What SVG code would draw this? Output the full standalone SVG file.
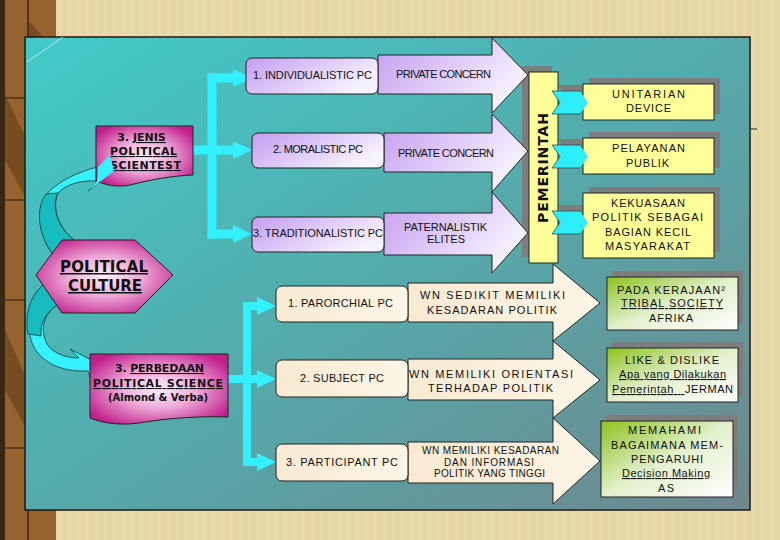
<svg xmlns="http://www.w3.org/2000/svg" width="780" height="540" viewBox="0 0 780 540">
<defs>
  <pattern id="parch" width="9" height="540" patternUnits="userSpaceOnUse">
    <rect width="9" height="540" fill="#e8d8a8"/>
    <line x1="2" y1="0" x2="2" y2="540" stroke="#dccb96" stroke-width="1" opacity="0.45"/>
    <line x1="6" y1="0" x2="6" y2="540" stroke="#f0e3bb" stroke-width="1" opacity="0.45"/>
  </pattern>
  <linearGradient id="panelG" x1="0" y1="0" x2="1" y2="1">
    <stop offset="0" stop-color="#3fcbc9"/>
    <stop offset="0.45" stop-color="#52aeae"/>
    <stop offset="1" stop-color="#6f878e"/>
  </linearGradient>
  <linearGradient id="purG" x1="0" y1="0" x2="1" y2="0.5">
    <stop offset="0" stop-color="#c39cf0"/>
    <stop offset="1" stop-color="#f7f2ff"/>
  </linearGradient>
  <radialGradient id="magG" cx="0.5" cy="0.5" r="0.6">
    <stop offset="0" stop-color="#fff2fb"/>
    <stop offset="0.45" stop-color="#eeaad8"/>
    <stop offset="1" stop-color="#c01f8c"/>
  </radialGradient>
  <linearGradient id="greG" x1="0" y1="0" x2="1" y2="1">
    <stop offset="0" stop-color="#8cc21c"/>
    <stop offset="0.5" stop-color="#e2f0cc"/>
    <stop offset="1" stop-color="#ffffff"/>
  </linearGradient>
  <linearGradient id="creG" x1="0" y1="0" x2="1" y2="0">
    <stop offset="0" stop-color="#f8ead2"/>
    <stop offset="1" stop-color="#fdf5e6"/>
  </linearGradient>
  <style>
    .t{font-family:"Liberation Sans","DejaVu Sans",Arial,sans-serif;font-size:11px;fill:#111;text-anchor:middle}
    .s{font-size:10px}
    .b{font-family:"DejaVu Sans","Liberation Sans",sans-serif;font-weight:bold;font-size:11px;fill:#111;text-anchor:middle}
    .u{text-decoration:underline}
    .pur{fill:url(#purG);stroke:#222;stroke-width:1}
    .cre{fill:url(#creG);stroke:#222;stroke-width:1}
    .yel{fill:#ffff99;stroke:#222;stroke-width:1}
    .grn{fill:url(#greG);stroke:#222;stroke-width:1}
    .mag{fill:url(#magG);stroke:#222;stroke-width:1}
    .sh{fill:#7d7d7d}
    .cy{stroke:#33f0ff;stroke-width:9;fill:none}
    .cyf{fill:#33f0ff}
    .ca{fill:#35f2ff;stroke:#1a3a3a;stroke-width:0.8}
    .cd{fill:#17bcbf;stroke:#1a3a3a;stroke-width:0.8}
    .chev{fill:#2eeefa;stroke:#333;stroke-width:0.7}
  </style>
</defs>

<g id="background">
  <rect x="0" y="0" width="780" height="540" fill="url(#parch)"/>
  <rect x="0" y="0" width="56" height="540" fill="#96622e"/>
  <rect x="0" y="0" width="5" height="540" fill="#3b2814"/>
  <line x1="28" y1="0" x2="28" y2="540" stroke="#3b2412" stroke-width="1.5"/>
  <path d="M5,95 L27,140 L27,200 L5,160 Z M28,180 L55,230 L55,300 L28,250 Z M5,330 L27,380 L27,430 L5,390 Z M28,20 L55,50 L55,110 L28,80 Z" fill="#5e3a18" opacity="0.55"/>
  <g stroke="#2b1a0a" stroke-width="1">
    <line x1="5" y1="98" x2="28" y2="98"/>
    <line x1="28" y1="158" x2="56" y2="158"/>
    <line x1="5" y1="200" x2="28" y2="200"/>
    <line x1="28" y1="330" x2="56" y2="330"/>
    <line x1="5" y1="300" x2="28" y2="300"/>
    <line x1="5" y1="448" x2="28" y2="448"/>
    <line x1="28" y1="465" x2="56" y2="465"/>
  </g>
  <rect x="25" y="37" width="725" height="473" fill="url(#panelG)" stroke="#1a1a1a" stroke-width="1.5"/>
  <line x1="27" y1="62" x2="63" y2="37" stroke="#d8f4f4" stroke-width="1" opacity="0.8"/>
  <line x1="750" y1="129" x2="757" y2="129" stroke="#222" stroke-width="1"/>
</g>

<g id="shadows">
  <rect class="sh" x="522" y="66" width="30" height="191"/>
  <rect class="sh" x="589" y="78" width="131" height="36"/>
  <rect class="sh" x="589" y="132" width="131" height="36"/>
  <rect class="sh" x="589" y="187" width="131" height="65"/>
  <rect class="sh" x="612" y="271" width="131" height="53"/>
  <rect class="sh" x="612" y="342" width="131" height="54"/>
  <rect class="sh" x="606" y="415" width="132" height="76"/>
  <path class="sh" d="M558,85 H586 L594,96.5 L586,108 H558 L566,96.5 Z"/>
  <path class="sh" d="M558,139 H586 L594,150.5 L586,162 H558 L566,150.5 Z"/>
  <path class="sh" d="M558,205 H586 L594,216.5 L586,228 H558 L566,216.5 Z"/>
</g>

<g id="connectors">
  <line class="cy" x1="212" y1="73.5" x2="212" y2="238.5"/>
  <line class="cy" x1="207.5" y1="78" x2="236" y2="78"/>
  <line class="cy" x1="193" y1="150" x2="236" y2="150"/>
  <line class="cy" x1="207.5" y1="234" x2="236" y2="234"/>
  <polygon class="cyf" points="233,69 252,78 233,87"/>
  <polygon class="cyf" points="233,141 252,150 233,159"/>
  <polygon class="cyf" points="233,225 252,234 233,243"/>
  <line class="cy" x1="247" y1="302" x2="247" y2="466" style="stroke-width:8"/>
  <line class="cy" x1="243" y1="306" x2="260" y2="306" style="stroke-width:8"/>
  <line class="cy" x1="228" y1="379" x2="260" y2="379" style="stroke-width:8"/>
  <line class="cy" x1="243" y1="462" x2="260" y2="462" style="stroke-width:8"/>
  <polygon class="cyf" points="257,297 276,306 257,315"/>
  <polygon class="cyf" points="257,370 276,379 257,388"/>
  <polygon class="cyf" points="257,453 276,462 257,471"/>
  <path class="ca" d="M52,253 C36,232 36,200 53,188 C64,179 80,171 98,167 L110,155 L114,171 L88,191 L97,181 C82,180 68,184 60,191 C52,200 54,224 74,240 Z"/>
  <path class="cd" d="M52,253 C37,233 36,207 46,194 L58,193 C52,204 55,225 74,240 Z"/>
  <path class="ca" d="M43,285 C26,300 24,335 37,352 C48,366 66,372 88,371 L92,384 L101,365 L70,349 L79,358 C64,358 52,352 47,344 C40,330 43,315 57,305 Z"/>
  <path class="cd" d="M43,285 C28,298 25,318 28,334 L41,336 C40,324 45,313 57,305 Z"/>
</g>

<g id="purple-arrows">
  <path class="pur" d="M378,55 H492 V38 L528,75 L492,113 V94 H378 Z"/>
  <path class="pur" d="M384,133 H492 V114 L528,151 L492,192 V172 H384 Z"/>
  <path class="pur" d="M384,213 H492 V192 L528,233 L492,273 V255 H384 Z"/>
  <text class="t" x="443.5" y="78" textLength="95">PRIVATE CONCERN</text>
  <text class="t" x="446" y="157" textLength="96">PRIVATE CONCERN</text>
  <text class="t" x="445.5" y="231" textLength="83">PATERNALISTIK</text>
  <text class="t" x="446" y="243" textLength="38">ELITES</text>
</g>

<g id="n-individualistic">
  <rect class="pur" x="246" y="58" width="132" height="36" rx="6"/>
  <text class="t" x="312.5" y="79" textLength="119">1. INDIVIDUALISTIC PC</text>
</g>
<g id="n-moralistic">
  <rect class="pur" x="252" y="133" width="132" height="35" rx="6"/>
  <text class="t" x="318" y="153" textLength="90">2. MORALISTIC PC</text>
</g>
<g id="n-traditionalistic">
  <rect class="pur" x="252" y="217" width="132" height="35" rx="6"/>
  <text class="t" x="318" y="237" textLength="130">3. TRADITIONALISTIC PC</text>
</g>

<g id="n-pemerintah">
  <rect class="yel" x="529" y="72" width="29" height="191"/>
  <text class="b" transform="translate(548,168) rotate(-90)" x="0" y="0" style="font-size:14px" textLength="110">PEMERINTAH</text>
</g>

<g id="chevrons">
  <path class="chev" d="M552,91 H580 L588,102.5 L580,114 H552 L560,102.5 Z"/>
  <path class="chev" d="M552,145 H580 L588,156.5 L580,168 H552 L560,156.5 Z"/>
  <path class="chev" d="M552,211 H580 L588,222.5 L580,234 H552 L560,222.5 Z"/>
</g>

<g id="n-unitarian">
  <rect class="yel" x="583" y="84" width="131" height="36"/>
  <path class="chev" d="M580,91 L588,102.5 L580,114 Z" style="stroke:none"/>
  <text class="t" x="648.5" y="98" textLength="73">UNITARIAN</text>
  <text class="t" x="648.5" y="112" textLength="45">DEVICE</text>
</g>
<g id="n-pelayanan">
  <rect class="yel" x="583" y="138" width="131" height="36"/>
  <path class="chev" d="M580,145 L588,156.5 L580,168 Z" style="stroke:none"/>
  <text class="t" x="648.5" y="152" textLength="73">PELAYANAN</text>
  <text class="t" x="647.5" y="167" textLength="43">PUBLIK</text>
</g>
<g id="n-kekuasaan">
  <rect class="yel" x="583" y="193" width="131" height="65"/>
  <path class="chev" d="M580,211 L588,222.5 L580,234 Z" style="stroke:none"/>
  <text class="t" x="648" y="207" textLength="74">KEKUASAAN</text>
  <text class="t" x="647.5" y="221" textLength="111">POLITIK SEBAGAI</text>
  <text class="t" x="648" y="236" textLength="86">BAGIAN KECIL</text>
  <text class="t" x="647.5" y="250" textLength="85">MASYARAKAT</text>
</g>

<g id="cream-arrows">
  <path class="cre" d="M408,283 H553 V264 L600,303 L553,341 V322 H408 Z"/>
  <path class="cre" d="M408,359 H553 V341 L600,380 L553,418 V400 H408 Z"/>
  <path class="cre" d="M408,442 H553 V418 L600,461 L553,504 V483 H408 Z"/>
  <text class="t" x="492.5" y="299" textLength="145">WN SEDIKIT MEMILIKI</text>
  <text class="t" x="492" y="314" textLength="130">KESADARAN POLITIK</text>
  <text class="t" x="491" y="378" textLength="164">WN MEMILIKI ORIENTASI</text>
  <text class="t" x="490.5" y="392" textLength="125">TERHADAP POLITIK</text>
  <text class="t s" x="490.5" y="454" textLength="137">WN MEMILIKI KESADARAN</text>
  <text class="t s" x="489" y="466" textLength="90">DAN INFORMASI</text>
  <text class="t s" x="489.5" y="477" textLength="111">POLITIK YANG TINGGI</text>
</g>

<g id="n-parochial">
  <rect class="cre" x="276" y="286" width="132" height="36" rx="6"/>
  <text class="t" x="340.5" y="307" textLength="105">1. PARORCHIAL PC</text>
</g>
<g id="n-subject">
  <rect class="cre" x="276" y="360" width="132" height="37" rx="6"/>
  <text class="t" x="342" y="382" textLength="84">2. SUBJECT PC</text>
</g>
<g id="n-participant">
  <rect class="cre" x="276" y="444" width="132" height="37" rx="6"/>
  <text class="t" x="342" y="466" textLength="112">3. PARTICIPANT PC</text>
</g>

<g id="n-pada">
  <rect class="grn" x="607" y="277" width="131" height="53"/>
  <text class="t" x="671" y="294" textLength="108">PADA KERAJAAN²</text>
  <text class="t u" x="672" y="307" textLength="102">TRIBAL SOCIETY</text>
  <text class="t" x="671" y="322" textLength="44">AFRIKA</text>
</g>
<g id="n-like">
  <rect class="grn" x="607" y="348" width="131" height="54"/>
  <text class="t" x="672" y="364" textLength="94">LIKE &amp; DISLIKE</text>
  <text class="t u" x="672.5" y="378" textLength="107">Apa yang Dilakukan</text>
  <text class="t" x="672.5" y="393" style="white-space:pre" textLength="121"><tspan class="u">Pemerintah   </tspan>JERMAN</text>
</g>
<g id="n-memahami">
  <rect class="grn" x="601" y="421" width="132" height="76"/>
  <text class="t" x="664.5" y="434" textLength="73">MEMAHAMI</text>
  <text class="t" x="667" y="449" textLength="112">BAGAIMANA MEM-</text>
  <text class="t" x="667" y="463" textLength="72">PENGARUHI</text>
  <text class="t u" x="666" y="477" textLength="88">Decision Making</text>
  <text class="t" x="666" y="492" textLength="16">AS</text>
</g>

<g id="n-jenis">
  <path class="mag" d="M96,126 H193 V175 C170,176 150,180 130,185 C115,188 104,184 96,181 Z"/>
  <text class="b" x="141.5" y="141">3. <tspan class="u">JENIS</tspan></text>
  <text class="b u" x="143.5" y="155" textLength="67">POLITICAL</text>
  <text class="b u" x="145.5" y="169" textLength="71">SCIENTEST</text>
</g>

<g id="n-culture">
  <polygon class="mag" points="36,275 62,240 135,240 173,275 135,313 62,313"/>
  <text class="b u" x="104" y="272" style="font-size:15px" textLength="88">POLITICAL</text>
  <text class="b u" x="105" y="291" style="font-size:15px" textLength="74">CULTURE</text>
</g>

<g id="n-perbedaan">
  <path class="mag" d="M90,354 H228 V417 C200,416 170,418 145,422 C125,426 105,424 90,418 Z"/>
  <text class="b" x="159.5" y="372" textLength="89">3. <tspan class="u">PERBEDAAN</tspan></text>
  <text class="b u" x="158" y="387" textLength="130">POLITICAL SCIENCE</text>
  <text class="b" x="158" y="401" style="font-size:10px" textLength="100">(Almond &amp; Verba)</text>
</g>

<g id="curved-arrow-overlay">
  <path class="ca" d="M98,167 L110,155 L114,171 L88,191 L97,181 Z" style="stroke:none"/>
</g>
</svg>
